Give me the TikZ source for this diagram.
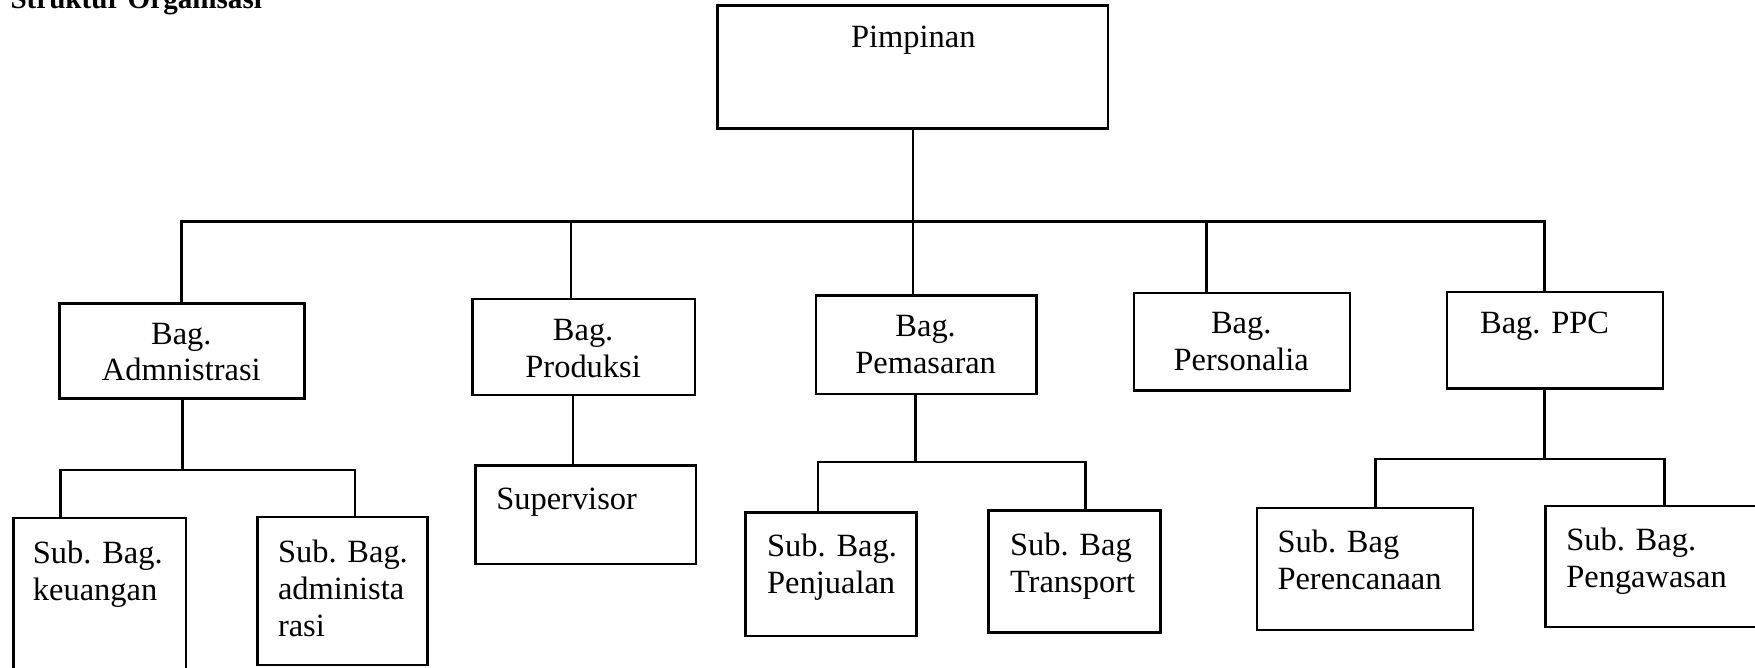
\documentclass[tikz,border=0pt]{standalone}
\usepackage{fontspec}
\setmainfont{Liberation Serif}
\newcommand{\orgbox}[5]{\node[box, minimum width={(#4-#2)*0.5pt}, minimum height={(#5-#3)*0.5pt}] (#1) at (#2,#3) {};}
\begin{document}
\begin{tikzpicture}[x=0.5pt,y=-0.5pt,
  box/.style={draw, line width=1.1pt, inner sep=0pt, outer sep=0pt, anchor=north west},
  txt/.style={inner sep=0pt, font=\fontsize{14.5}{16.5}\selectfont},
  ctxt/.style={txt, anchor=north, align=center},
  ltxt/.style={txt, anchor=north west, align=left},
  wire/.style={line width=1.1pt, line cap=rect}]
\useasboundingbox (0,0) rectangle (1568,596);
\clip (0,0) rectangle (1568,596);

% title (cut at the top edge)
\node[anchor=base west, inner sep=0pt, font=\bfseries\fontsize{13}{15}\selectfont] (title) at (9,7.5) {Struktur Organisasi};

% boxes
\orgbox{pim}{641}{5}{990}{115}
\orgbox{adm}{53}{271}{272}{356}
\orgbox{pro}{422}{267}{621}{353}
\orgbox{pem}{729}{264}{926}{352}
\orgbox{per}{1013}{262}{1206}{349}
\orgbox{ppc}{1293}{261}{1486}{347}
\orgbox{keu}{12}{463}{166}{610}
\orgbox{adms}{230}{462}{382}{594}
\orgbox{sup}{425}{416}{622}{504}
\orgbox{pjl}{666}{458}{819}{568}
\orgbox{trn}{883}{456}{1037}{565}
\orgbox{ren}{1123}{454}{1316}{563}
\orgbox{paw}{1381}{452}{1590}{560}

% texts
\node[ctxt] (pimt) at (816,22.5) {Pimpinan};
\node[ctxt] (admt) at (162,288) {Bag.\\Admnistrasi};
\node[ctxt] (prot) at (521,285) {Bag.\\Produksi};
\node[ctxt] (pemt) at (827,281) {Bag.\\Pemasaran};
\node[ctxt] (pert) at (1109,279) {Bag.\\Personalia};
\node[ctxt] (ppct) at (1380,278) {Bag. PPC};
\node[ltxt] (keut) at (29,483) {Sub. Bag.\\keuangan};
\node[ltxt] (admst) at (248,482) {Sub. Bag.\\administa\\rasi};
\node[ltxt] (supt) at (443,436) {Supervisor};
\node[ltxt] (pjlt) at (685,477) {Sub. Bag.\\Penjualan};
\node[ltxt] (trnt) at (902,476) {Sub. Bag\\Transport};
\node[ltxt] (rent) at (1141,473) {Sub. Bag\\Perencanaan};
\node[ltxt] (pawt) at (1399,471) {Sub. Bag.\\Pengawasan};

% main bus
\coordinate (b1) at (162,198);
\coordinate (b2) at (510,198);
\coordinate (b4) at (1078,198);
\coordinate (b5) at (1380,198);
\draw[wire] (pim.south) -- (pim.south |- pem.north);
\draw[wire] (b1 |- adm.north) -- (b1) -- (b5) -- (b5 |- ppc.north);
\draw[wire] (b2) -- (b2 |- pro.north);
\draw[wire] (b4) -- (b4 |- per.north);

% administrasi branch
\coordinate (a0) at (163,420);
\coordinate (a1) at (54,420);
\coordinate (a2) at (317,420);
\draw[wire] (a0 |- adm.south) -- (a0);
\draw[wire] (a1 |- keu.north) -- (a1) -- (a2) -- (a2 |- adms.north);

% produksi branch
\coordinate (s0) at (512,400);
\draw[wire] (s0 |- pro.south) -- (s0 |- sup.north);

% pemasaran branch
\coordinate (m0) at (818,413);
\coordinate (m1) at (731,413);
\coordinate (m2) at (970,413);
\draw[wire] (m0 |- pem.south) -- (m0);
\draw[wire] (m1 |- pjl.north) -- (m1) -- (m2) -- (m2 |- trn.north);

% ppc branch
\coordinate (p0) at (1380,410);
\coordinate (p1) at (1229,410);
\coordinate (p2) at (1487,410);
\draw[wire] (p0 |- ppc.south) -- (p0);
\draw[wire] (p1 |- ren.north) -- (p1) -- (p2) -- (p2 |- paw.north);
\end{tikzpicture}
\end{document}
